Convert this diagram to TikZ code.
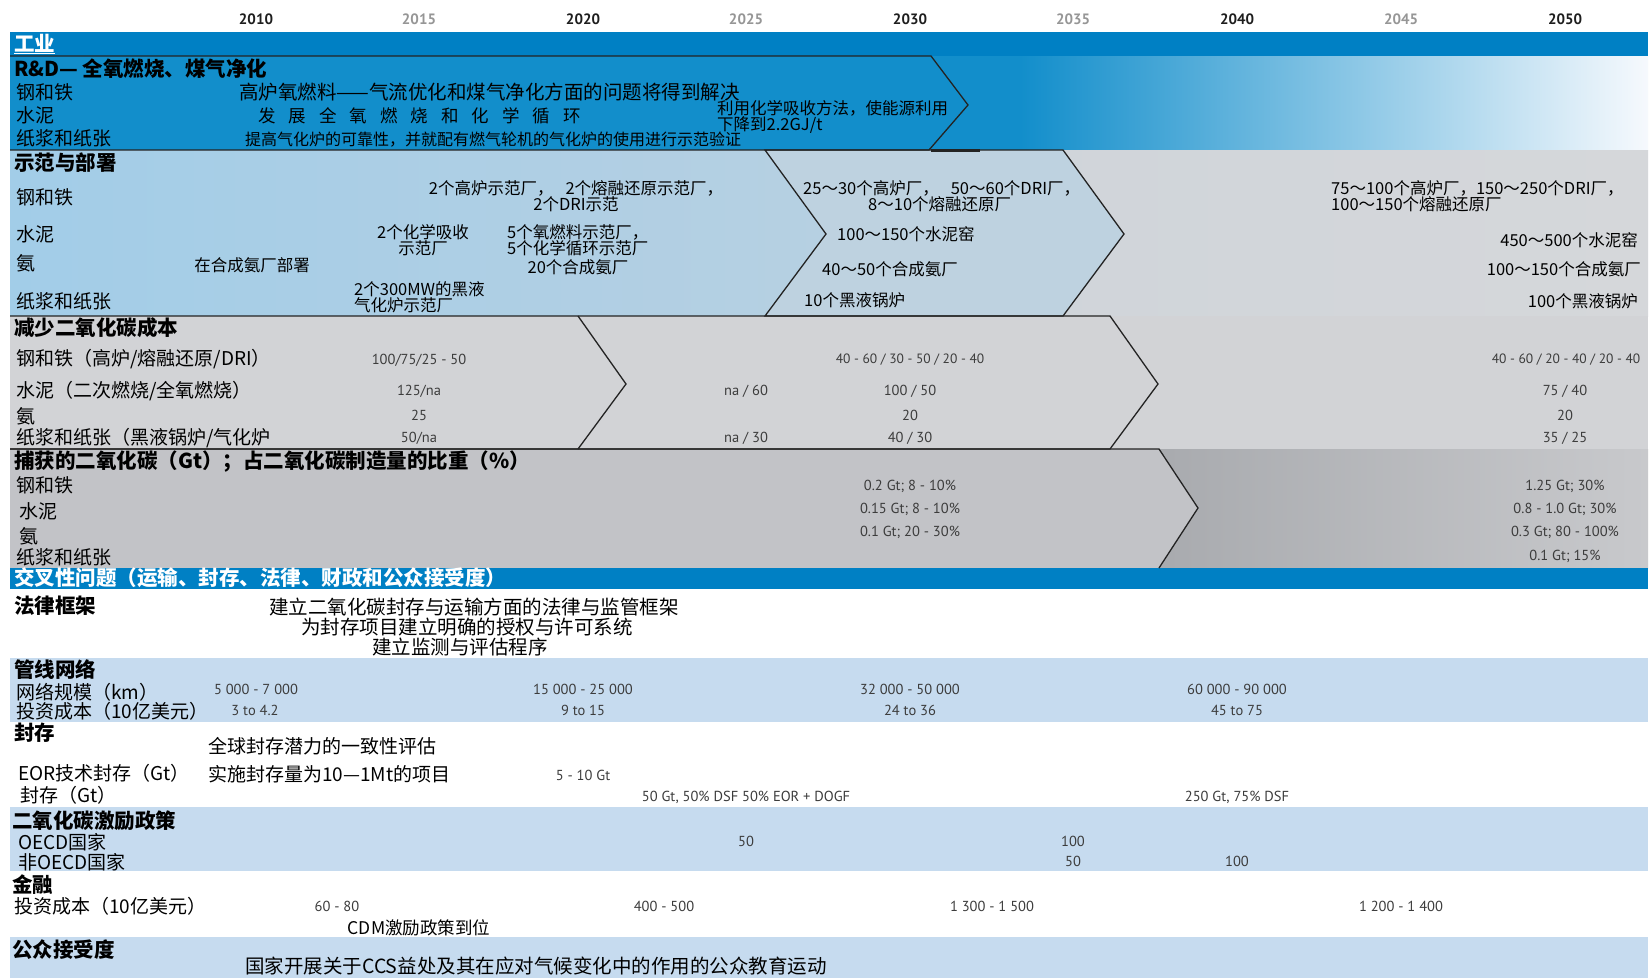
\documentclass[tikz,border=0pt]{standalone}
\usepackage{fontspec}
\setmainfont{Noto Sans CJK SC}
\newfontfamily\numf{PT Sans}
\definecolor{topblue}{RGB}{0,128,196}
\definecolor{rdblue}{RGB}{18,142,203}
\definecolor{rdwhite}{RGB}{246,249,253}
\definecolor{demoL}{RGB}{162,205,232}
\definecolor{demoM}{RGB}{182,208,226}
\definecolor{chev}{RGB}{190,210,224}
\definecolor{demoR}{RGB}{200,210,219}
\definecolor{demoRR}{RGB}{213,215,218}
\definecolor{costg}{RGB}{210,211,214}
\definecolor{capA}{RGB}{194,195,199}
\definecolor{capR}{RGB}{168,170,174}
\definecolor{capRR}{RGB}{200,201,204}
\definecolor{xblue}{RGB}{198,219,239}
\definecolor{outl}{RGB}{35,35,35}
\definecolor{numc}{RGB}{60,60,60}
\definecolor{yrdark}{RGB}{30,30,30}
\definecolor{yrgray}{RGB}{150,150,150}
\begin{document}
\begin{tikzpicture}[x=1pt,y=-1pt,
  ol/.style={draw=outl, line width=1.3pt, line join=miter},
  lab/.style={anchor=west, inner sep=0pt, text=black, font=\fontsize{19}{21}\selectfont},
  hdr/.style={anchor=west, inner sep=0pt, text=black, font=\fontsize{20.5}{22}\selectfont\bfseries},
  sm/.style={inner sep=0pt, text=black, font=\fontsize{16.5}{16.5}\selectfont},
  num/.style={inner sep=0pt, text=numc, font=\numf\fontsize{14.5}{16}\selectfont},
  snum/.style={inner sep=0pt, text=numc, font=\numf\fontsize{13.5}{15}\selectfont},
  yrd/.style={inner sep=0pt, text=yrdark, font=\numf\bfseries\fontsize{15}{16}\selectfont},
  yrg/.style={inner sep=0pt, text=yrgray, font=\numf\bfseries\fontsize{15}{16}\selectfont}]
\useasboundingbox (0,0) rectangle (1650,978);
\fill[white] (0,0) rectangle (1650,978);

% years
\node[yrd] (y2010) at (256,19) {2010};
\node[yrg] (y2015) at (419,19) {2015};
\node[yrd] (y2020) at (583,19) {2020};
\node[yrg] (y2025) at (746,19) {2025};
\node[yrd] (y2030) at (910,19) {2030};
\node[yrg] (y2035) at (1073,19) {2035};
\node[yrd] (y2040) at (1237,19) {2040};
\node[yrg] (y2045) at (1401,19) {2045};
\node[yrd] (y2050) at (1565,19) {2050};

% top bar
\fill[topblue] (10,32) rectangle (1648,56);

% R&D band
\fill[rdblue] (10,56) rectangle (1022,150);
\shade[left color=rdblue, right color=rdwhite] (1020,56) rectangle (1648,150);

% demo band
\shade[left color=demoR, right color=demoRR] (10,150) rectangle (1648,316);
\shade[left color=demoL, right color=demoM] (10,150) -- (765,150) -- (826,234) -- (765,316) -- (10,316) -- cycle;
\fill[chev] (765,150) -- (1063,150) -- (1124,234) -- (1063,316) -- (765,316) -- (826,234) -- cycle;

% cost band
\fill[costg] (10,316) rectangle (1648,449);

% captured band
\shade[left color=capR, right color=capRR] (1150,449) rectangle (1648,568);
\fill[capA] (10,449) -- (1159,449) -- (1198,508) -- (1159,568) -- (10,568) -- cycle;

% cross-cutting
\fill[topblue] (10,568) rectangle (1648,589);
\fill[xblue] (10,658) rectangle (1648,722);
\fill[xblue] (10,807) rectangle (1648,871);
\fill[xblue] (10,937) rectangle (1648,978);

% outlines
\draw[ol] (10,56) -- (931,56) -- (968,105) -- (929,150) -- (10,150);
\draw[outl, line width=3pt] (931,150) -- (980,150);
\draw[ol] (765,150) -- (1063,150) -- (1124,234) -- (1063,316) -- (765,316) -- (826,234) -- cycle;
\draw[ol] (10,316) -- (1110,316) -- (1158,384) -- (1110,449) -- (10,449);
\draw[ol] (578,316) -- (626,384) -- (578,449);
\draw[ol] (10,449) -- (1159,449) -- (1198,508) -- (1159,568);

% header
\node[hdr, text=white] (ind) at (14,44) {\underline{工业}};

% R&D texts
\node[hdr] (rdh) at (14,69) {R\&D— 全氧燃烧、煤气净化};
\node[lab] (rd1) at (16,92) {钢和铁};
\node[lab] (rd2) at (16,115) {水泥};
\node[lab] (rd3) at (16,138) {纸浆和纸张};
\node[lab, font=\fontsize{19.5}{21}\selectfont] (rdt1) at (239,92) {高炉氧燃料——气流优化和煤气净化方面的问题将得到解决};
\node[lab, font=\fontsize{17.5}{19}\selectfont] (rdt2) at (258,116) {发\hspace{13pt}展\hspace{13pt}全\hspace{13pt}氧\hspace{13pt}燃\hspace{13pt}烧\hspace{13pt}和\hspace{13pt}化\hspace{13pt}学\hspace{13pt}循\hspace{13pt}环};
\node[lab, align=left, font=\fontsize{16.5}{16.5}\selectfont] (rdt3) at (717,117) {利用化学吸收方法，使能源利用\\下降到2.2GJ/t};
\node[lab, font=\fontsize{16}{17}\selectfont] (rdt4) at (245,140) {提高气化炉的可靠性，并就配有燃气轮机的气化炉的使用进行示范验证};

% demo texts
\node[hdr] (dh) at (14,163) {示范与部署};
\node[lab] (d1) at (16,197) {钢和铁};
\node[lab] (d2) at (16,234) {水泥};
\node[lab] (d3) at (16,263) {氨};
\node[lab] (d4) at (16,301) {纸浆和纸张};
\node[sm, align=center] (dt1) at (576,196) {2个高炉示范厂，\hspace{12pt}2个熔融还原示范厂，\\2个DRI示范};
\node[sm, align=center] (dt2) at (423,240) {2个化学吸收\\示范厂};
\node[sm, align=left, anchor=west] (dt3) at (507,240) {5个氧燃料示范厂，\\5个化学循环示范厂};
\node[sm] (dt4) at (578,267) {20个合成氨厂};
\node[sm] (dt5) at (252,265) {在合成氨厂部署};
\node[sm, align=left, anchor=west] (dt6) at (354,297) {2个300MW的黑液\\气化炉示范厂};
\node[sm, anchor=west] (dt7) at (803,188) {25～30个高炉厂，\hspace{12pt}50～60个DRI厂，};
\node[sm, anchor=west] (dt7b) at (868,204) {8～10个熔融还原厂};
\node[sm, anchor=west] (dt8) at (837,234) {100～150个水泥窑};
\node[sm, anchor=west] (dt9) at (822,269) {40～50个合成氨厂};
\node[sm, anchor=west] (dt10) at (804,300) {10个黑液锅炉};
\node[sm, align=left, anchor=west] (dt11) at (1331,196) {75～100个高炉厂，150～250个DRI厂，\\100～150个熔融还原厂};
\node[sm, anchor=east] (dt12) at (1638,240) {450～500个水泥窑};
\node[sm, anchor=east] (dt13) at (1641,269) {100～150个合成氨厂};
\node[sm, anchor=east] (dt14) at (1638,301) {100个黑液锅炉};

% cost texts
\node[hdr] (ch) at (14,328) {减少二氧化碳成本};
\node[lab] (c1) at (16,359) {钢和铁（高炉/熔融还原/DRI）};
\node[lab] (c2) at (16,391) {水泥（二次燃烧/全氧燃烧）};
\node[lab] (c3) at (16,416) {氨};
\node[lab] (c4) at (16,438) {纸浆和纸张（黑液锅炉/气化炉};
\node[num] (cn1) at (419,360) {100/75/25 - 50};
\node[num] (cn2) at (419,391) {125/na};
\node[num] (cn3) at (419,415) {25};
\node[num] (cn4) at (419,438) {50/na};
\node[num] (cn5) at (746,391) {na / 60};
\node[num] (cn6) at (746,438) {na / 30};
\node[snum] (cn7) at (910,360) {40 - 60 / 30 - 50 / 20 - 40};
\node[num] (cn8) at (910,391) {100 / 50};
\node[num] (cn9) at (910,415) {20};
\node[num] (cn10) at (910,438) {40 / 30};
\node[snum] (cn11) at (1566,360) {40 - 60 / 20 - 40 / 20 - 40};
\node[num] (cn12) at (1565,391) {75 / 40};
\node[num] (cn13) at (1565,415) {20};
\node[num] (cn14) at (1565,438) {35 / 25};

% captured texts
\node[hdr] (kh) at (14,462) {捕获的二氧化碳（Gt）；占二氧化碳制造量的比重（\%）};
\node[lab] (k1) at (16,485) {钢和铁};
\node[lab] (k2) at (19,511) {水泥};
\node[lab] (k3) at (19,536) {氨};
\node[lab] (k4) at (16,557) {纸浆和纸张};
\node[num] (kn1) at (910,486) {0.2 Gt; 8 - 10\%};
\node[num] (kn2) at (910,509) {0.15 Gt; 8 - 10\%};
\node[num] (kn3) at (910,532) {0.1 Gt; 20 - 30\%};
\node[num] (kn4) at (1565,486) {1.25 Gt; 30\%};
\node[num] (kn5) at (1565,509) {0.8 - 1.0 Gt; 30\%};
\node[num] (kn6) at (1565,532) {0.3 Gt; 80 - 100\%};
\node[num] (kn7) at (1565,556) {0.1 Gt; 15\%};

% cross-cutting header
\node[hdr, text=white] (xh) at (14,578) {交叉性问题（运输、封存、法律、财政和公众接受度）};

% legal
\node[hdr] (lh) at (14,606) {法律框架};
\node[lab, anchor=center, font=\fontsize{19.5}{21}\selectfont] (lt1) at (474,607) {建立二氧化碳封存与运输方面的法律与监管框架};
\node[lab, anchor=center, font=\fontsize{19.5}{21}\selectfont] (lt2) at (467,627) {为封存项目建立明确的授权与许可系统};
\node[lab, anchor=center, font=\fontsize{19.5}{21}\selectfont] (lt3) at (460,647) {建立监测与评估程序};

% pipeline
\node[hdr] (ph) at (14,670) {管线网络};
\node[lab] (p1) at (16,692) {网络规模（km）};
\node[lab] (p2) at (16,711) {投资成本（10亿美元）};
\node[num] (pn1) at (256,689) {5 000 - 7 000};
\node[num] (pn2) at (255,710) {3 to 4.2};
\node[num] (pn3) at (583,689) {15 000 - 25 000};
\node[num] (pn4) at (583,710) {9 to 15};
\node[num] (pn5) at (910,689) {32 000 - 50 000};
\node[num] (pn6) at (910,710) {24 to 36};
\node[num] (pn7) at (1237,689) {60 000 - 90 000};
\node[num] (pn8) at (1237,710) {45 to 75};

% storage
\node[hdr] (sh) at (14,733) {封存};
\node[lab] (st1) at (208,746) {全球封存潜力的一致性评估};
\node[lab] (s1) at (18,773) {EOR技术封存（Gt）};
\node[lab] (st2) at (208,774) {实施封存量为10—1Mt的项目};
\node[num] (sn1) at (583,775) {5 - 10 Gt};
\node[lab] (s2) at (20,795) {封存（Gt）};
\node[num] (sn2) at (746,797) {50 Gt, 50\% DSF 50\% EOR + DOGF};
\node[num] (sn3) at (1237,797) {250 Gt, 75\% DSF};

% incentives
\node[hdr] (ih) at (12,821) {二氧化碳激励政策};
\node[lab] (i1) at (18,842) {OECD国家};
\node[lab] (i2) at (18,862) {非OECD国家};
\node[num] (in1) at (746,841) {50};
\node[num] (in2) at (1073,841) {100};
\node[num] (in3) at (1073,861) {50};
\node[num] (in4) at (1237,861) {100};

% finance
\node[hdr] (fh) at (12,885) {金融};
\node[lab] (f1) at (14,906) {投资成本（10亿美元）};
\node[num] (fn1) at (337,906) {60 - 80};
\node[num] (fn2) at (664,906) {400 - 500};
\node[num] (fn3) at (992,906) {1 300 - 1 500};
\node[num] (fn4) at (1401,906) {1 200 - 1 400};
\node[lab, anchor=center, font=\fontsize{17.5}{19}\selectfont] (ft1) at (419,928) {CDM激励政策到位};

% public
\node[hdr] (gh) at (12,950) {公众接受度};
\node[lab, font=\fontsize{19.5}{21}\selectfont] (gt1) at (245,966) {国家开展关于CCS益处及其在应对气候变化中的作用的公众教育运动};
\end{tikzpicture}
\end{document}
